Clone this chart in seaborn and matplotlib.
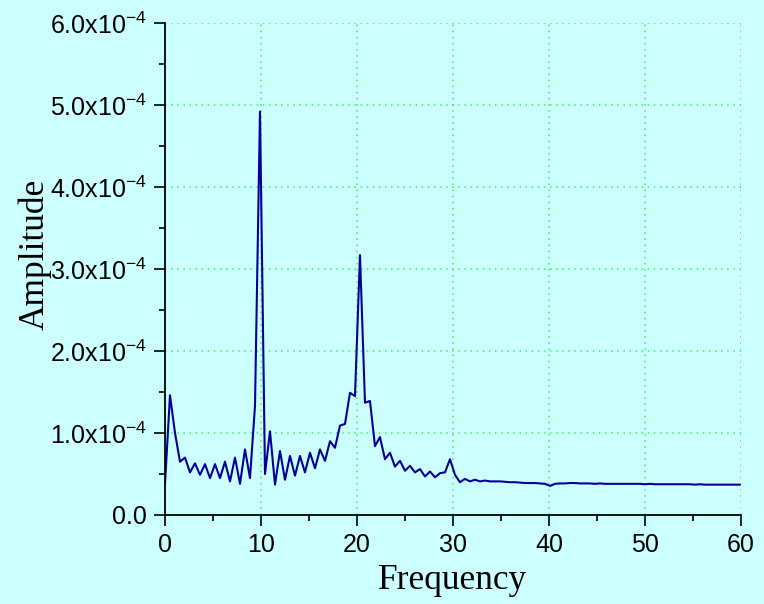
import numpy as np
import pandas as pd
import matplotlib
matplotlib.use("Agg")
import matplotlib.pyplot as plt
import seaborn as sns
from matplotlib.ticker import MultipleLocator, FuncFormatter

# ---- data (amplitude in units of 1e-4) ----
freq_step = 0.5208
amplitude_e4 = [
    0.38, 1.46, 1.00, 0.65, 0.70, 0.52, 0.63, 0.49, 0.62, 0.45,
    0.62, 0.45, 0.65, 0.41, 0.70, 0.38, 0.80, 0.45, 1.33, 4.92,
    0.50, 1.02, 0.37, 0.78, 0.43, 0.72, 0.48, 0.72, 0.52, 0.76,
    0.57, 0.80, 0.66, 0.90, 0.82, 1.09, 1.11, 1.49, 1.45, 3.17,
    1.37, 1.39, 0.84, 0.95, 0.68, 0.76, 0.59, 0.66, 0.54, 0.60,
    0.52, 0.56, 0.47, 0.53, 0.46, 0.51, 0.52, 0.68, 0.49, 0.40,
    0.44, 0.41, 0.43, 0.41, 0.42, 0.41, 0.41, 0.41, 0.405, 0.40,
    0.40, 0.395, 0.39, 0.39, 0.39, 0.385, 0.38, 0.355, 0.38, 0.385,
    0.385, 0.39, 0.39, 0.385, 0.385, 0.385, 0.38, 0.385, 0.38, 0.38,
    0.38, 0.38, 0.38, 0.38, 0.38, 0.38, 0.375, 0.38, 0.375, 0.375,
    0.375, 0.375, 0.375, 0.375, 0.375, 0.375, 0.37, 0.375, 0.37, 0.37,
    0.37, 0.37, 0.37, 0.37, 0.37, 0.37,
]
frequency = [i * freq_step for i in range(len(amplitude_e4))]
x_ticks = [0, 10, 20, 30, 40, 50, 60]
y_ticks_e4 = [0, 1, 2, 3, 4, 5, 6]

df = pd.DataFrame({"Frequency": frequency,
                   "Amplitude": [a * 1e-4 for a in amplitude_e4]})

# ---- style ----
sns.set_style("ticks")
bg = "#CCFFFF"
plt.rcParams.update({
    "figure.facecolor": bg,
    "axes.facecolor": bg,
    "savefig.facecolor": bg,
    "mathtext.fontset": "custom",
    "mathtext.rm": "Liberation Sans",
    "text.color": "black",
    "axes.labelcolor": "black",
})
plt.rcParams["font.family"] = ["Liberation Sans", "DejaVu Sans"]

fig = plt.figure(figsize=(7.64, 6.04), dpi=100)
ax = fig.add_axes([165 / 764, 89 / 604, 576 / 764, 492 / 604])

sns.lineplot(data=df, x="Frequency", y="Amplitude", ax=ax,
             color="#000096", linewidth=1.5)

ax.set_xlim(0, 60)
ax.set_ylim(0, 6e-4)
ax.set_xticks(x_ticks)
ax.set_yticks([v * 1e-4 for v in y_ticks_e4])
ax.xaxis.set_minor_locator(MultipleLocator(5))
ax.yaxis.set_minor_locator(MultipleLocator(0.5e-4))


def yfmt(v, pos):
    m = v / 1e-4
    if abs(m) < 1e-9:
        return "0.0"
    return r"$\mathregular{%.1fx10^{-4}}$" % m


ax.yaxis.set_major_formatter(FuncFormatter(yfmt))

ax.grid(True, which="major", color="#44F044", linestyle=(0, (1, 3)),
        linewidth=1.1)
for s in ["top", "right"]:
    ax.spines[s].set_visible(False)
for s in ["left", "bottom"]:
    ax.spines[s].set_linewidth(1.3)
    ax.spines[s].set_color("black")

ax.tick_params(which="major", direction="out", length=8, width=1.2,
               labelsize=18, colors="black")
ax.tick_params(axis="y", which="major", pad=5)
ax.tick_params(axis="x", which="major", pad=5)
ax.tick_params(which="minor", direction="out", length=4, width=1.2,
               colors="black")

serif = ["Liberation Serif", "DejaVu Serif"]
ax.set_xlabel("Frequency", fontsize=25.5, family=serif, labelpad=5,
              color="black")
ax.set_ylabel("Amplitude", fontsize=25.5, family=serif, color="black")
ax.yaxis.set_label_coords(-0.196, 0.53)

fig.savefig("out.png", dpi=100)
